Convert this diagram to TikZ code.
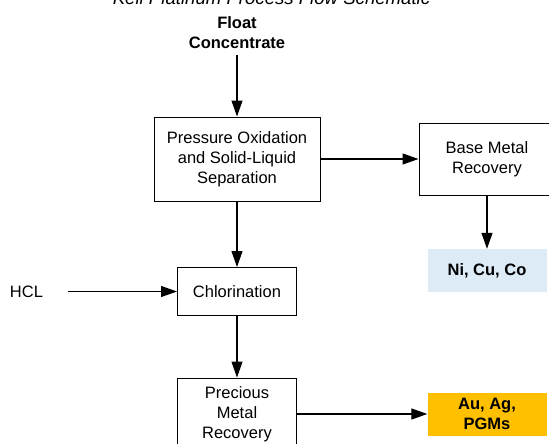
\documentclass[tikz,border=0pt]{standalone}
\usepackage{fontspec}
\setmainfont{Liberation Sans}
\usetikzlibrary{arrows.meta}
\definecolor{nifill}{RGB}{221,235,247}
\definecolor{aufill}{RGB}{255,192,0}
\tikzset{
  x=1pt, y=-1pt,
  txt/.style={font=\fontsize{16.5}{20}\selectfont, align=center, text=black},
  boldtxt/.style={font=\fontsize{16.5}{20}\selectfont\bfseries, align=center, text=black},
  procbox/.style={txt, draw=black, line width=1pt, inner sep=0pt},
  prodbox/.style={boldtxt, inner sep=0pt, minimum width=119pt, minimum height=43pt},
  arr/.style={draw=black, line width=1.2pt, -{Triangle[length=16pt,width=11pt]}},
}
\begin{document}
\begin{tikzpicture}
\path[use as bounding box, clip] (0,0) rectangle (549,444);
\node[font=\fontsize{18.6}{22}\selectfont\itshape, anchor=base, inner sep=0pt] (title) at (271.5,5) {Kell Platinum Process Flow Schematic};
\node[boldtxt, inner sep=6pt] (float) at (237,33) {Float\\Concentrate};
\node[procbox, minimum width=166pt, minimum height=84pt] (pox) at (237,159) {Pressure Oxidation\\and Solid-Liquid\\Separation};
\node[procbox, minimum width=136pt, minimum height=72pt] (base) at (487,159) {Base Metal\\Recovery};
\node[prodbox, fill=nifill] (ni) at (487,270.5) {Ni, Cu, Co};
\node[txt, inner sep=3pt] (hcl) at (26.5,291.5) {HCL};
\node[procbox, minimum width=119pt, minimum height=48pt] (chlor) at (237,291.5) {Chlorination};
\node[procbox, minimum width=119pt, minimum height=72pt] (prec) at (237,414) {Precious\\Metal\\Recovery};
\node[prodbox, fill=aufill] (au) at (487,414) {Au, Ag,\\PGMs};
\draw[arr] (float) -- (pox);
\draw[arr] (pox) -- (base);
\draw[arr] (base) -- (ni);
\draw[arr] (pox) -- (chlor);
\draw[arr, shorten <=22pt] (hcl) -- (chlor);
\draw[arr] (chlor) -- (prec);
\draw[arr] (prec) -- (au);
\end{tikzpicture}
\end{document}
